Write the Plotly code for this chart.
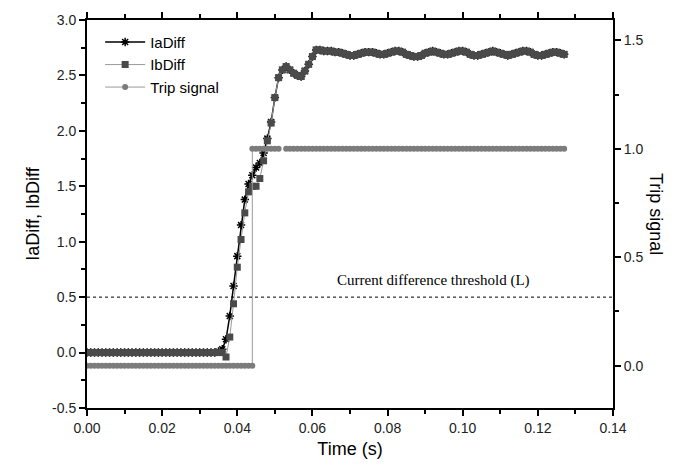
import plotly.graph_objects as go

# sampling grid (s)
dt = 0.001
time_s = [round(i * dt, 3) for i in range(128)]

# IaDiff
ia_diff = [0.0] * 35 + [
    0.01, 0.03, 0.12, 0.33, 0.60, 0.87, 1.15, 1.38, 1.52, 1.60,
    1.67, 1.71, 1.80, 1.93, 2.08, 2.30, 2.48, 2.55, 2.58, 2.55,
    2.52, 2.50, 2.49, 2.54, 2.60, 2.67,
]
# IbDiff
ib_diff = [0.0] * 36 + [
    0.0, -0.04, 0.14, 0.44, 0.77, 1.02, 1.26, 1.45, 1.50, 1.50,
    1.57, 1.73, 1.91, 2.07, 2.30, 2.48, 2.55, 2.58, 2.55, 2.52,
    2.50, 2.49, 2.54, 2.60, 2.67,
]
# common steady-state portion (t = 0.061 ... 0.127)
plateau = [
    2.73, 2.73, 2.72, 2.72, 2.72, 2.71, 2.71, 2.70, 2.69, 2.68,
    2.68, 2.69, 2.70, 2.71, 2.71, 2.71, 2.70, 2.69, 2.69, 2.70,
    2.71, 2.72, 2.72, 2.71, 2.69, 2.68, 2.67, 2.67, 2.68, 2.70,
    2.71, 2.72, 2.71, 2.70, 2.69, 2.69, 2.70, 2.71, 2.72, 2.72,
    2.71, 2.69, 2.68, 2.68, 2.69, 2.70, 2.71, 2.72, 2.71, 2.70,
    2.69, 2.68, 2.69, 2.70, 2.71, 2.72, 2.72, 2.71, 2.69, 2.68,
    2.68, 2.69, 2.70, 2.71, 2.71, 2.70, 2.69,
]
ia_diff = ia_diff + plateau
ib_diff = ib_diff + plateau

# Trip signal (step at ~0.044 s, one missing sample near 0.052 s)
trip_time = time_s[:45] + time_s[44:]
trip_signal = [0] * 45 + [1] * 84
trip_signal[53] = None

threshold = 0.5
threshold_label = "Current difference threshold (L)"

FONT = "Liberation Sans, Arial, sans-serif"

fig = go.Figure()
fig.add_trace(go.Scatter(
    x=time_s, y=ia_diff, name="IaDiff", mode="lines+markers",
    line=dict(color="black", width=1.5),
    marker=dict(symbol="asterisk-open", size=7, color="black",
                line=dict(color="black", width=1.5)),
))
fig.add_trace(go.Scatter(
    x=time_s, y=ib_diff, name="IbDiff", mode="lines+markers",
    line=dict(color="#9a9a9a", width=1),
    marker=dict(symbol="square", size=7, color="#4a4a4a"),
))
fig.add_trace(go.Scatter(
    x=trip_time, y=trip_signal, name="Trip signal", mode="lines+markers",
    yaxis="y2", connectgaps=False,
    line=dict(color="#9a9a9a", width=1),
    marker=dict(symbol="circle", size=6, color="#7c7c7c"),
))

fig.add_shape(type="line", xref="x", yref="y", x0=0, x1=0.14,
              y0=threshold, y1=threshold,
              line=dict(color="black", width=1, dash="dot"))
fig.add_annotation(x=0.0922, y=threshold, xref="x", yref="y",
                   yanchor="bottom", yshift=6, showarrow=False,
                   text=threshold_label,
                   font=dict(family="Liberation Serif, Times New Roman, serif",
                             size=15, color="black"))
fig.add_annotation(x=1.0, y=0.5, xref="paper", yref="paper",
                   xanchor="center", xshift=43, showarrow=False,
                   text="Trip signal", textangle=90,
                   font=dict(family=FONT, size=18, color="black"))

axis_common = dict(
    showline=True, linecolor="black", linewidth=2,
    ticks="outside", ticklen=6, tickwidth=1.5, tickcolor="black",
    showgrid=False, zeroline=False,
    tickfont=dict(family=FONT, size=14, color="#222"),
)

fig.update_layout(
    width=681, height=471,
    margin=dict(l=87, r=68, t=13, b=63),
    paper_bgcolor="white", plot_bgcolor="white",
    font=dict(family=FONT, color="black"),
    showlegend=True,
    legend=dict(x=0.025, y=0.985, xanchor="left", yanchor="top",
                bgcolor="rgba(0,0,0,0)", font=dict(family=FONT, size=15),
                tracegroupgap=0, itemwidth=40),
    xaxis=dict(
        range=[0, 0.14], tickmode="array",
        tickvals=[0, 0.02, 0.04, 0.06, 0.08, 0.10, 0.12, 0.14],
        ticktext=["0.00", "0.02", "0.04", "0.06", "0.08", "0.10", "0.12", "0.14"],
        mirror="ticks",
        minor=dict(ticks="outside", ticklen=4, tickwidth=1.5, tickcolor="black", dtick=0.01),
        title=dict(text="Time (s)", font=dict(family=FONT, size=18), standoff=8),
        **axis_common,
    ),
    yaxis=dict(
        range=[-0.5, 3.0], tickmode="array",
        tickvals=[-0.5, 0, 0.5, 1.0, 1.5, 2.0, 2.5, 3.0],
        ticktext=["-0.5", "0.0", "0.5", "1.0", "1.5", "2.0", "2.5", "3.0"],
        minor=dict(ticks="outside", ticklen=4, tickwidth=1.5, tickcolor="black", dtick=0.25),
        title=dict(text="IaDiff, IbDiff", font=dict(family=FONT, size=18), standoff=8),
        **axis_common,
    ),
    yaxis2=dict(
        overlaying="y", side="right",
        range=[-0.195, 1.594], tickmode="array",
        tickvals=[0, 0.5, 1.0, 1.5],
        ticktext=["0.0", "0.5", "1.0", "1.5"],
        minor=dict(ticks="outside", ticklen=4, tickwidth=1.5, tickcolor="black",
                   tickvals=[0.25, 0.75, 1.25]),
        **axis_common,
    ),
)

fig.write_html("out.html")
